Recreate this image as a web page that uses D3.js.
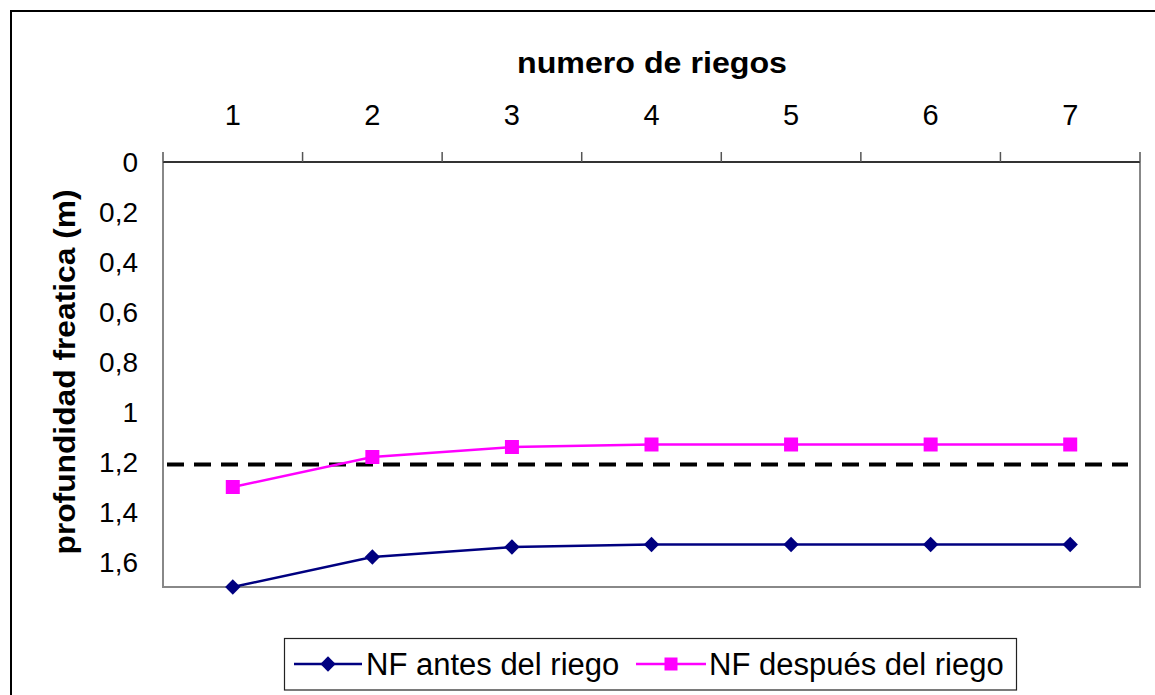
<!DOCTYPE html>
<html>
<head>
<meta charset="utf-8">
<script src="https://cdn.jsdelivr.net/npm/d3@7"></script>
<style>
  html, body { margin: 0; padding: 0; background: #fff; }
  svg { display: block; font-family: "Liberation Sans", Arial, sans-serif; }
</style>
</head>
<body>
<svg id="chart" width="1155" height="695"></svg>
<script>
// Number of irrigations (categories along the top axis)
const riegos = ["1", "2", "3", "4", "5", "6", "7"];
// Water-table depth before each irrigation (m)
const nfAntes = [1.70, 1.58, 1.54, 1.53, 1.53, 1.53, 1.53];
// Water-table depth after each irrigation (m)
const nfDespues = [1.30, 1.18, 1.14, 1.13, 1.13, 1.13, 1.13];
// Reference depth shown as a dashed line (m)
const nivelCritico = 1.21;
// Depth axis ticks
const yTicks = [0, 0.2, 0.4, 0.6, 0.8, 1, 1.2, 1.4, 1.6];

const seriesNames = ["NF antes del riego", "NF después del riego"];
const colors = ["#000080", "#FF00FF"];

const svg = d3.select("#chart");

// Outer frame
svg.append("rect")
  .attr("x", 11).attr("y", 11)
  .attr("width", 1160).attr("height", 700)
  .attr("fill", "none").attr("stroke", "#000").attr("stroke-width", 2);

const plot = { left: 163, right: 1140, top: 162, bottom: 587 };

const x = d3.scaleBand().domain(riegos).range([plot.left, plot.right]);
const y = d3.scaleLinear().domain([0, 1.7]).range([plot.top, plot.bottom]);
const cx = d => x(d) + x.bandwidth() / 2;

// Plot border: grey sides/bottom
svg.append("path")
  .attr("d", `M${plot.left},${plot.top}V${plot.bottom}H${plot.right}V${plot.top}`)
  .attr("fill", "none").attr("stroke", "#888").attr("stroke-width", 2);

// Top category axis
const gx = svg.append("g").attr("transform", `translate(0,${plot.top})`);
gx.append("line")
  .attr("x1", plot.left).attr("x2", plot.right)
  .attr("stroke", "#333").attr("stroke-width", 2);
// category boundary ticks
const bounds = riegos.map(d => x(d)).concat([plot.right]);
gx.selectAll("line.tk").data(bounds).join("line")
  .attr("class", "tk")
  .attr("x1", d => d).attr("x2", d => d)
  .attr("y1", 0).attr("y2", -10)
  .attr("stroke", "#555").attr("stroke-width", 1.5);
gx.selectAll("text.lbl").data(riegos).join("text")
  .attr("class", "lbl")
  .attr("x", cx).attr("y", -37)
  .attr("text-anchor", "middle")
  .attr("font-size", 29)
  .text(d => d);

// Left depth labels
const fmt = v => String(v).replace(".", ",");
svg.selectAll("text.ylbl").data(yTicks).join("text")
  .attr("class", "ylbl")
  .attr("x", 138).attr("y", d => y(d))
  .attr("dy", "0.35em")
  .attr("text-anchor", "end")
  .attr("font-size", 28)
  .text(fmt);

// Axis titles
svg.append("text")
  .attr("x", 652).attr("y", 73)
  .attr("text-anchor", "middle")
  .attr("font-size", 30).attr("font-weight", "bold")
  .attr("textLength", 270).attr("lengthAdjust", "spacingAndGlyphs")
  .text("numero de riegos");

svg.append("text")
  .attr("transform", `translate(75,372) rotate(-90)`)
  .attr("text-anchor", "middle")
  .attr("font-size", 30).attr("font-weight", "bold")
  .attr("textLength", 365).attr("lengthAdjust", "spacingAndGlyphs")
  .text("profundidad freatica (m)");

// Dashed reference level
svg.append("line")
  .attr("x1", plot.left + 4).attr("x2", plot.right - 12)
  .attr("y1", y(nivelCritico)).attr("y2", y(nivelCritico))
  .attr("stroke", "#000").attr("stroke-width", 4)
  .attr("stroke-dasharray", "17,10");

const line = d3.line().x((d, i) => cx(riegos[i])).y(d => y(d));

const diamond = d3.symbol().type(d3.symbolDiamond2).size(150);

// Series: before irrigation (diamonds)
svg.append("path").datum(nfAntes)
  .attr("d", line).attr("fill", "none")
  .attr("stroke", colors[0]).attr("stroke-width", 2.5);
svg.selectAll("path.dia").data(nfAntes).join("path")
  .attr("class", "dia")
  .attr("d", diamond)
  .attr("transform", (d, i) => `translate(${cx(riegos[i])},${y(d)})`)
  .attr("fill", colors[0]);

// Series: after irrigation (squares)
svg.append("path").datum(nfDespues)
  .attr("d", line).attr("fill", "none")
  .attr("stroke", colors[1]).attr("stroke-width", 2.5);
svg.selectAll("rect.sq").data(nfDespues).join("rect")
  .attr("class", "sq")
  .attr("x", (d, i) => cx(riegos[i]) - 7)
  .attr("y", d => y(d) - 7)
  .attr("width", 14).attr("height", 14)
  .attr("fill", colors[1]);

// Legend
const lg = svg.append("g");
lg.append("rect")
  .attr("x", 284.5).attr("y", 638.5)
  .attr("width", 732).attr("height", 51.5)
  .attr("fill", "#fff").attr("stroke", "#222").attr("stroke-width", 1.2);

const legendItems = [
  { x0: 294, x1: 362, tx: 366, name: seriesNames[0], color: colors[0], kind: "d" },
  { x0: 636, x1: 706, tx: 709, name: seriesNames[1], color: colors[1], kind: "s" }
];
const ly = 664;
legendItems.forEach(it => {
  const mid = (it.x0 + it.x1) / 2;
  lg.append("line")
    .attr("x1", it.x0).attr("x2", it.x1)
    .attr("y1", ly).attr("y2", ly)
    .attr("stroke", it.color).attr("stroke-width", 2.5);
  if (it.kind === "d") {
    lg.append("path")
      .attr("d", diamond)
      .attr("transform", `translate(${mid},${ly})`)
      .attr("fill", it.color);
  } else {
    lg.append("rect")
      .attr("x", mid - 6.5).attr("y", ly - 6.5)
      .attr("width", 13).attr("height", 13)
      .attr("fill", it.color);
  }
  lg.append("text")
    .attr("x", it.tx).attr("y", ly)
    .attr("dy", "0.35em")
    .attr("font-size", 31)
    .text(it.name);
});
</script>
</body>
</html>
